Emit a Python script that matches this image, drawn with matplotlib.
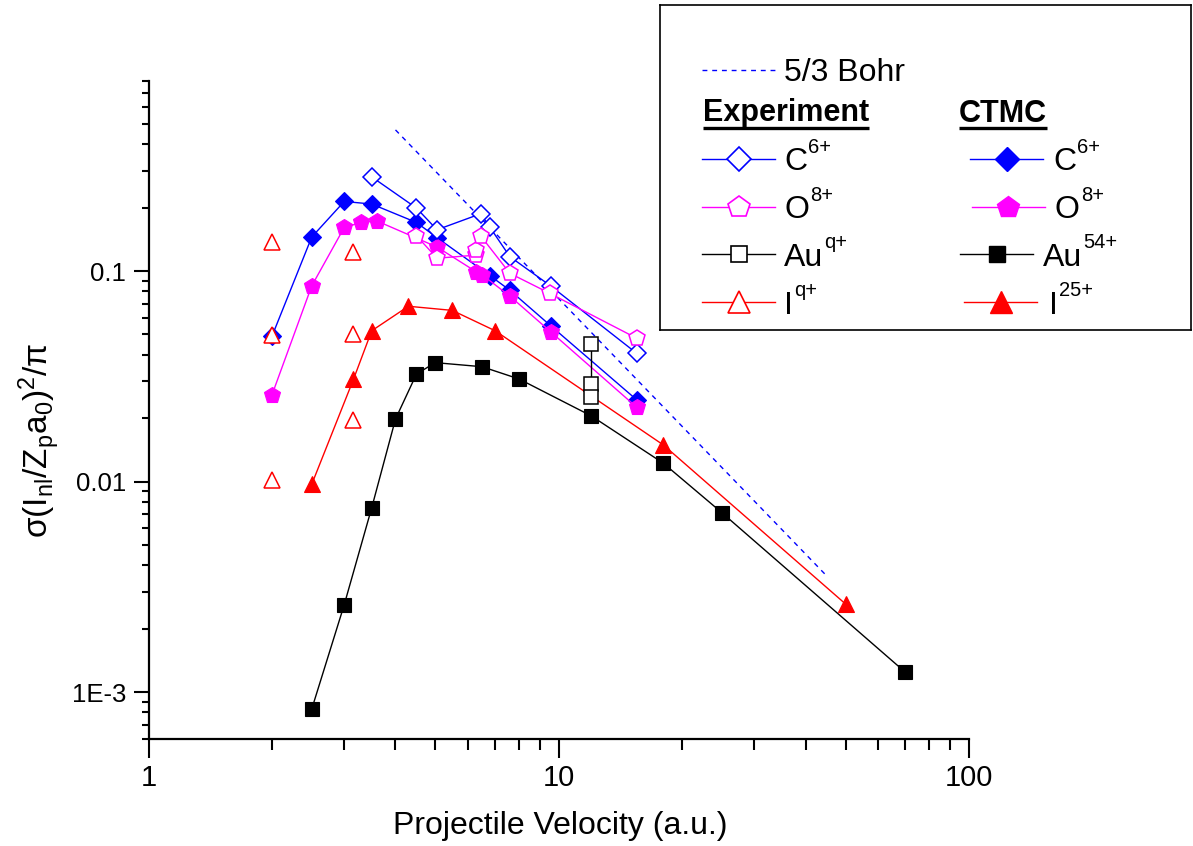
import matplotlib
matplotlib.use('Agg')
import matplotlib.pyplot as plt
from matplotlib.ticker import FixedLocator, FixedFormatter, LogLocator, NullFormatter

plt.rcParams['font.family'] = ['Liberation Sans', 'DejaVu Sans']
plt.rcParams['mathtext.fontset'] = 'custom'
plt.rcParams['mathtext.rm'] = 'Liberation Sans'
plt.rcParams['mathtext.it'] = 'Liberation Sans:italic'
plt.rcParams['mathtext.bf'] = 'Liberation Sans:bold'

# CTMC calculations
c6_ctmc_v = [2, 2.5, 3, 3.5, 4.5, 5.05, 6.8, 7.6, 9.55, 15.5]
c6_ctmc_s = [0.049, 0.145, 0.214, 0.208, 0.170, 0.144, 0.095, 0.081, 0.055, 0.0244]
o8_ctmc_v = [2, 2.5, 3, 3.3, 3.6, 5.05, 6.3, 6.5, 7.6, 9.55, 15.5]
o8_ctmc_s = [0.0258, 0.085, 0.161, 0.170, 0.173, 0.130, 0.099, 0.096, 0.076, 0.0515, 0.0225]
au_ctmc_v = [2.5, 3, 3.5, 4, 4.5, 5, 6.5, 8, 12, 18, 25, 70]
au_ctmc_s = [8.3e-4, 2.6e-3, 7.5e-3, 0.0198, 0.0324, 0.0367, 0.0351, 0.0307,
             0.0205, 0.0122, 7.1e-3, 1.24e-3]
i_ctmc_v = [2.5, 3.16, 3.5, 4.3, 5.5, 7, 18, 50]
i_ctmc_s = [9.7e-3, 0.0306, 0.052, 0.068, 0.065, 0.052, 0.0149, 2.62e-3]

# experiment
c6_exp_v = [3.5, 4.5, 5.05, 6.45, 6.8, 7.6, 9.55, 15.5]
c6_exp_s = [0.28, 0.199, 0.157, 0.187, 0.161, 0.117, 0.085, 0.0406]
o8_exp_v = [4.5, 5.05, 6.3, 6.3, 6.45, 7.6, 9.5, 15.5]
o8_exp_s = [0.147, 0.115, 0.119, 0.126, 0.147, 0.0975, 0.0784, 0.0479]
au_exp_v = [12, 12, 12]
au_exp_s = [0.045, 0.029, 0.0253]
i_exp_v = [2, 2, 2, 3.16, 3.16, 3.16]
i_exp_s = [0.137, 0.0498, 0.0102, 0.1227, 0.0504, 0.0195]

# 5/3 Bohr scaling
bohr_v = [4, 44.5]
bohr_s = [0.468, 0.00364]

W, H = 1193, 846
fig = plt.figure(figsize=(W / 100, H / 100), dpi=100)
ax = fig.add_axes([148.5 / W, 1 - 738.7 / H, 820.5 / W, 657.8 / H])

ax.plot(bohr_v, bohr_s, color='blue', lw=1.0, ls=(0, (3.5, 3.5)))

ctmc = [
    (c6_ctmc_v, c6_ctmc_s, 'blue', 'D', 9.2),
    (o8_ctmc_v, o8_ctmc_s, 'magenta', 'p', 12),
    (au_ctmc_v, au_ctmc_s, 'black', 's', 9.5),
    (i_ctmc_v, i_ctmc_s, 'red', '^', 12),
]
for v, s, c, m, ms in ctmc:
    ax.plot(v, s, color=c, lw=1.0, marker=m, ms=ms, mfc=c, mec=c, mew=0.8)

exp = [
    (c6_exp_v, c6_exp_s, 'blue', 'D', 9.2, '-'),
    (o8_exp_v, o8_exp_s, 'magenta', 'p', 12, '-'),
    (au_exp_v, au_exp_s, 'black', 's', 9.5, '-'),
    (i_exp_v, i_exp_s, 'red', '^', 12, 'none'),
]
for v, s, c, m, ms, ls in exp:
    ax.plot(v, s, color=c, lw=1.0, ls=ls, marker=m, ms=ms, mfc='white', mec=c, mew=1.1)

ax.set_xscale('log')
ax.set_yscale('log')
ax.set_xlim(1, 100)
ax.set_ylim(6e-4, 0.8)

for side in ('top', 'right'):
    ax.spines[side].set_visible(False)
for side in ('left', 'bottom'):
    ax.spines[side].set_linewidth(1.6)

ax.xaxis.set_major_locator(FixedLocator([1, 10, 100]))
ax.xaxis.set_major_formatter(FixedFormatter(['1', '10', '100']))
ax.xaxis.set_minor_locator(LogLocator(base=10, subs=range(2, 10)))
ax.xaxis.set_minor_formatter(NullFormatter())
ax.yaxis.set_major_locator(FixedLocator([1e-3, 1e-2, 1e-1]))
ax.yaxis.set_major_formatter(FixedFormatter(['1E-3', '0.01', '0.1']))
ax.yaxis.set_minor_locator(LogLocator(base=10, subs=range(2, 10)))
ax.yaxis.set_minor_formatter(NullFormatter())

ax.tick_params(axis='x', which='major', direction='out', length=14, width=1.5, labelsize=21, pad=4)
ax.tick_params(axis='x', which='minor', direction='out', length=8, width=1.5)
ax.tick_params(axis='y', which='major', direction='out', length=11, width=1.5, labelsize=18.5, pad=5)
ax.tick_params(axis='y', which='minor', direction='out', length=5, width=1.5)

fig.text(560 / W, 1 - 826 / H, 'Projectile Velocity (a.u.)', ha='center', va='center', fontsize=23)
fig.text(40 / W, 1 - 440 / H, r'$\mathregular{\sigma(I_{nl}/Z_pa_0)^2/\pi}$',
         ha='center', va='center', rotation=90, fontsize=24)

# legend box drawn in pixel coordinates
lg = fig.add_axes([660 / W, 1 - 330 / H, 531 / W, 325 / H])
lg.set_xlim(660, 1191)
lg.set_ylim(330, 5)
lg.set_xticks([])
lg.set_yticks([])
for sp in lg.spines.values():
    sp.set_linewidth(1.2)

renderer = fig.canvas.get_renderer()
inv = lg.transData.inverted()


def label_with_sup(x, y, base, sup):
    # base text plus a raised smaller superscript, like the Origin legend
    t = lg.text(x, y, base, fontsize=23, va='baseline')
    bb = t.get_window_extent(renderer)
    xr, _ = inv.transform((bb.x1, bb.y0))
    lg.text(xr + 1, y - 17.5, sup, fontsize=14.5, va='baseline')


lg.plot([702, 775], [70, 70], color='blue', lw=1.0, ls=(0, (3.5, 3.5)))
lg.text(784, 81, '5/3 Bohr', fontsize=23, va='baseline')

headers = [lg.text(703, 121.5, 'Experiment', fontsize=22, fontweight='bold', va='baseline'),
           lg.text(958.5, 121.5, 'CTMC', fontsize=22, fontweight='bold', va='baseline')]

rows = [
    ('C', '6+', '6+', 'blue', 'D', 159, (970, 1043, 1007, 1053)),
    ('O', '8+', '8+', 'magenta', 'p', 207, (972, 1045, 1008, 1055)),
    ('Au', 'q+', '54+', 'black', 's', 254, (960, 1033, 997, 1043)),
    ('I', 'q+', '25+', 'red', '^', 302, (964, 1037, 1001, 1049)),
]
legend_ms = {'D': 12, 'p': 16, 's': 12, '^': 16}
for name, sup_e, sup_c, c, m, y, (x0, x1, xm, xt) in rows:
    ms = legend_ms[m]
    lg.plot([702, 775], [y, y], color=c, lw=1.0)
    lg.plot([738.5], [y], ls='none', marker=m, ms=ms, mfc='white', mec=c, mew=1.2)
    label_with_sup(784, y + 11.5, name, sup_e)
    lg.plot([x0, x1], [y, y], color=c, lw=1.0)
    lg.plot([xm], [y], ls='none', marker=m, ms=ms, mfc=c, mec=c, mew=1.0)
    label_with_sup(xt, y + 11.5, name, sup_c)

# underline the column headers
for t in headers:
    bb = t.get_window_extent(renderer)
    xa, _ = inv.transform((bb.x0, bb.y0))
    xb, _ = inv.transform((bb.x1, bb.y0))
    lg.plot([xa, xb], [128.5, 128.5], color='black', lw=2.4, solid_capstyle='butt')

fig.savefig('out.png', dpi=100)
